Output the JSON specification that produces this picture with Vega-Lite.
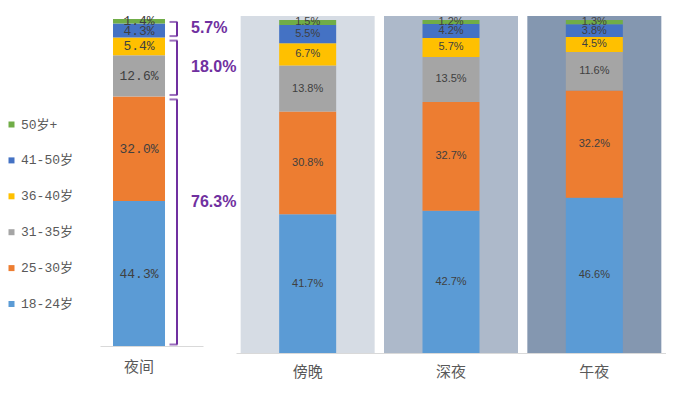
{
  "$schema": "https://vega.github.io/schema/vega-lite/v6.json",
  "padding": {"left": 5, "top": 15, "right": 0, "bottom": 0},
  "background": "white",
  "config": {"view": {"stroke": null}},
  "data": {"values": [
    {"period": "夜间", "age": "18-24岁", "grp": "A", "value": 44.3},
    {"period": "夜间", "age": "25-30岁", "grp": "A", "value": 32.0},
    {"period": "夜间", "age": "31-35岁", "grp": "B", "value": 12.6},
    {"period": "夜间", "age": "36-40岁", "grp": "B", "value": 5.4},
    {"period": "夜间", "age": "41-50岁", "grp": "C", "value": 4.3},
    {"period": "夜间", "age": "50岁+", "grp": "C", "value": 1.4},
    {"period": "傍晚", "age": "18-24岁", "grp": "A", "value": 41.7},
    {"period": "傍晚", "age": "25-30岁", "grp": "A", "value": 30.8},
    {"period": "傍晚", "age": "31-35岁", "grp": "B", "value": 13.8},
    {"period": "傍晚", "age": "36-40岁", "grp": "B", "value": 6.7},
    {"period": "傍晚", "age": "41-50岁", "grp": "C", "value": 5.5},
    {"period": "傍晚", "age": "50岁+", "grp": "C", "value": 1.5},
    {"period": "深夜", "age": "18-24岁", "grp": "A", "value": 42.7},
    {"period": "深夜", "age": "25-30岁", "grp": "A", "value": 32.7},
    {"period": "深夜", "age": "31-35岁", "grp": "B", "value": 13.5},
    {"period": "深夜", "age": "36-40岁", "grp": "B", "value": 5.7},
    {"period": "深夜", "age": "41-50岁", "grp": "C", "value": 4.2},
    {"period": "深夜", "age": "50岁+", "grp": "C", "value": 1.2},
    {"period": "午夜", "age": "18-24岁", "grp": "A", "value": 46.6},
    {"period": "午夜", "age": "25-30岁", "grp": "A", "value": 32.2},
    {"period": "午夜", "age": "31-35岁", "grp": "B", "value": 11.6},
    {"period": "午夜", "age": "36-40岁", "grp": "B", "value": 4.5},
    {"period": "午夜", "age": "41-50岁", "grp": "C", "value": 3.8},
    {"period": "午夜", "age": "50岁+", "grp": "C", "value": 1.3}
  ]},
  "bounds": "flush",
  "spacing": 33,
  "resolve": {"scale": {"color": "independent", "x": "independent", "y": "independent"}, "legend": {"color": "independent"}},
  "hconcat": [
    {
      "width": 103,
      "height": 330,
      "transform": [
        {"filter": "datum.period === '夜间'"},
        {"stack": "value", "groupby": ["period"], "sort": [{"field": "age", "order": "ascending"}], "as": ["y0", "y1"]},
        {"calculate": "(datum.y0 + datum.y1) / 2", "as": "mid"},
        {"calculate": "format(datum.value, '.1f') + '%'", "as": "label"}
      ],
      "encoding": {
        "x": {
          "field": "period", "type": "nominal",
          "scale": {"paddingInner": 0, "paddingOuter": 0.49, "align": 0.255},
          "axis": {"title": null, "domainColor": "#d9d9d9", "ticks": false, "labelPadding": 13, "labelFontSize": 15, "labelColor": "#595959", "labelFont": "Noto Sans CJK SC", "labelAngle": 0}
        }
      },
      "layer": [
        {
          "mark": {"type": "bar", "size": 52},
          "encoding": {
            "y": {"field": "y0", "type": "quantitative", "scale": {"domain": [0, 100.9], "nice": false}, "axis": null},
            "y2": {"field": "y1"},
            "color": {
              "field": "age", "type": "nominal",
              "scale": {"domain": ["50岁+", "41-50岁", "36-40岁", "31-35岁", "25-30岁", "18-24岁"], "range": ["#70ad47", "#4472c4", "#ffc000", "#a5a5a5", "#ed7d31", "#5b9bd5"]},
              "legend": {"orient": "none", "legendX": -95, "legendY": 102, "title": null, "symbolType": "square", "symbolSize": 36, "symbolStrokeWidth": 0, "labelFont": "Liberation Mono, Noto Sans CJK SC", "labelFontSize": 13, "labelColor": "#595959", "rowPadding": 21.9, "labelOffset": 3}
            }
          }
        },
        {
          "mark": {"type": "text", "font": "Liberation Mono", "fontSize": 13, "color": "#404040"},
          "encoding": {
            "y": {"field": "mid", "type": "quantitative"},
            "text": {"field": "label"}
          }
        },
        {
          "transform": [
            {"aggregate": [{"op": "min", "field": "y0", "as": "lo"}, {"op": "max", "field": "y1", "as": "hi"}, {"op": "sum", "field": "value", "as": "total"}], "groupby": ["period", "grp"]},
            {"calculate": "(datum.lo + datum.hi) / 2", "as": "gmid"},
            {"calculate": "format(datum.total, '.1f') + '%'", "as": "glabel"}
          ],
          "layer": [
            {
              "mark": {"type": "rule", "color": "#7030a0", "strokeWidth": 2, "xOffset": 38, "yOffset": -1.5, "y2Offset": 3},
              "encoding": {"y": {"field": "lo", "type": "quantitative"}, "y2": {"field": "hi"}}
            },
            {
              "mark": {"type": "tick", "color": "#7030a0", "thickness": 2, "size": 8, "xOffset": 34.5, "yOffset": 3},
              "encoding": {"y": {"field": "hi", "type": "quantitative"}}
            },
            {
              "mark": {"type": "tick", "color": "#7030a0", "thickness": 2, "size": 8, "xOffset": 34.5, "yOffset": -1.5},
              "encoding": {"y": {"field": "lo", "type": "quantitative"}}
            },
            {
              "transform": [{"filter": "datum.grp !== 'A'"}],
              "mark": {"type": "text", "color": "#7030a0", "font": "Liberation Sans", "fontSize": 16, "fontWeight": "bold", "align": "left", "xOffset": 52},
              "encoding": {"y": {"field": "gmid", "type": "quantitative"}, "text": {"field": "glabel"}}
            },
            {
              "transform": [{"filter": "datum.grp === 'A'"}],
              "mark": {"type": "text", "color": "#7030a0", "font": "Liberation Sans", "fontSize": 16, "fontWeight": "bold", "align": "left", "xOffset": 52, "yOffset": -19},
              "encoding": {"y": {"field": "gmid", "type": "quantitative"}, "text": {"field": "glabel"}}
            }
          ]
        }
      ]
    },
    {
      "width": 430,
      "height": 337,
      "transform": [
        {"filter": "datum.period !== '夜间'"},
        {"stack": "value", "groupby": ["period"], "sort": [{"field": "age", "order": "ascending"}], "as": ["y0", "y1"]},
        {"calculate": "(datum.y0 + datum.y1) / 2", "as": "mid"},
        {"calculate": "format(datum.value, '.1f') + '%'", "as": "label"}
      ],
      "encoding": {
        "x": {
          "field": "period", "type": "nominal",
          "scale": {"domain": ["傍晚", "深夜", "午夜"], "paddingInner": 0, "paddingOuter": 0},
          "axis": {"title": null, "domainColor": "#d9d9d9", "ticks": false, "labelPadding": 11, "labelFontSize": 15, "labelColor": "#595959", "labelFont": "Noto Sans CJK SC", "labelAngle": 0}
        }
      },
      "layer": [
        {
          "transform": [{"aggregate": [{"op": "count", "as": "n"}], "groupby": ["period"]}],
          "mark": {"type": "bar", "size": 134},
          "encoding": {
            "y": {"value": 0},
            "y2": {"value": "height"},
            "fill": {"field": "period", "type": "nominal", "scale": {"domain": ["傍晚", "深夜", "午夜"], "range": ["#d6dce4", "#adb9ca", "#8497b0"]}, "legend": null}
          }
        },
        {
          "mark": {"type": "bar", "size": 57},
          "encoding": {
            "y": {"field": "y0", "type": "quantitative", "scale": {"domain": [0, 101.2], "nice": false}, "axis": null},
            "y2": {"field": "y1"},
            "color": {
              "field": "age", "type": "nominal",
              "scale": {"domain": ["50岁+", "41-50岁", "36-40岁", "31-35岁", "25-30岁", "18-24岁"], "range": ["#70ad47", "#4472c4", "#ffc000", "#a5a5a5", "#ed7d31", "#5b9bd5"]},
              "legend": null
            }
          }
        },
        {
          "mark": {"type": "text", "font": "Liberation Sans Narrow, Liberation Sans", "fontSize": 11, "color": "#404040"},
          "encoding": {
            "y": {"field": "mid", "type": "quantitative"},
            "text": {"field": "label"}
          }
        }
      ]
    }
  ]
}
